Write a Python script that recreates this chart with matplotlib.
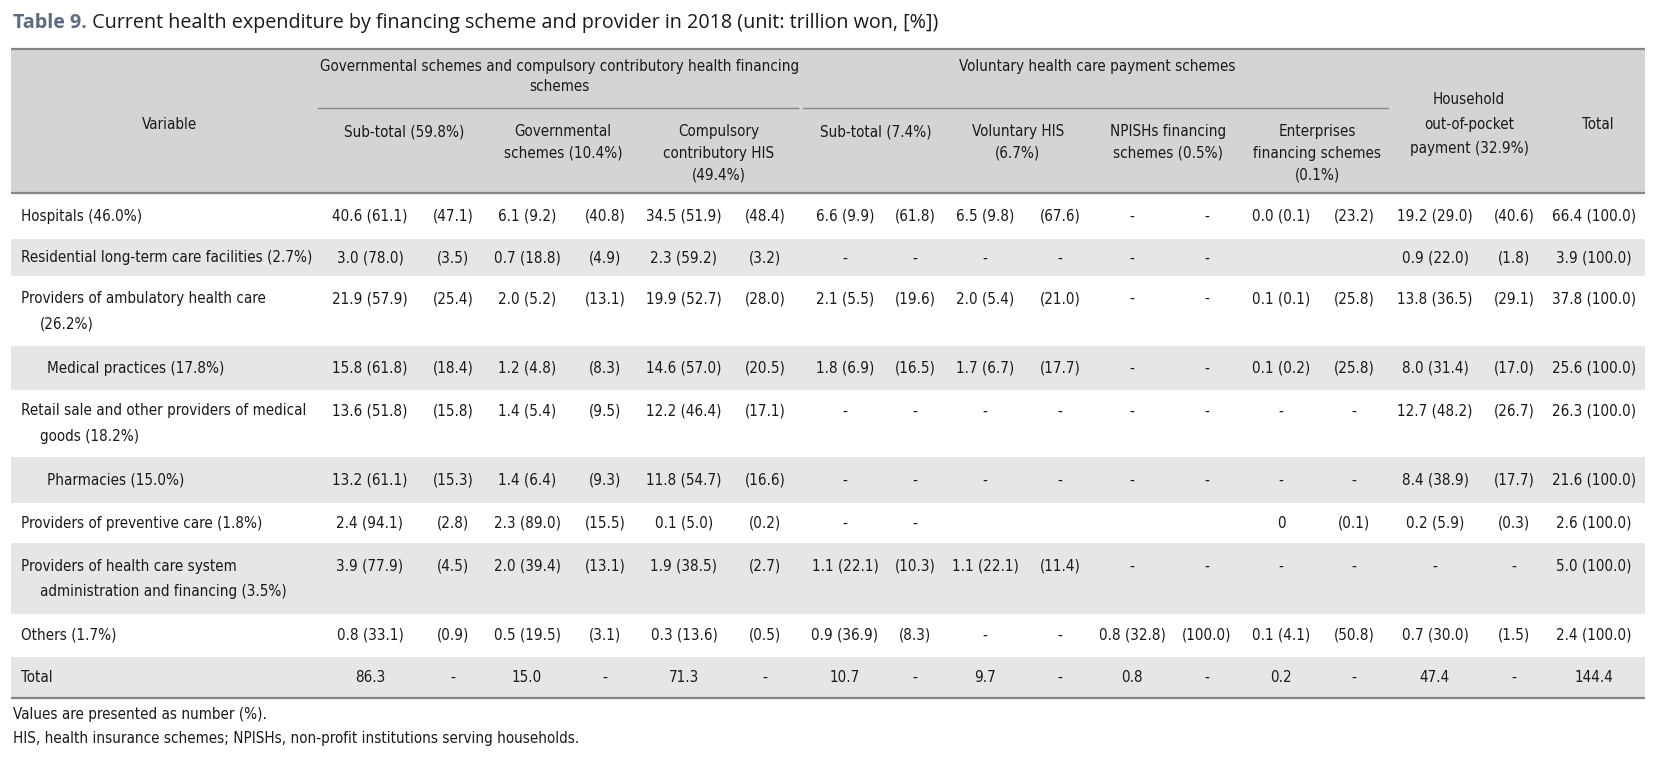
import matplotlib
matplotlib.use("Agg")
import matplotlib.pyplot as plt
from matplotlib import font_manager as fm
from matplotlib.patches import Rectangle

# ---------------- data ----------------
title_bold = "Table 9."
title_rest = " Current health expenditure by financing scheme and provider in 2018 (unit: trillion won, [%])"

group_headers = ["Governmental schemes and compulsory contributory health financing\nschemes",
                 "Voluntary health care payment schemes"]
sub_headers = ["Sub-total (59.8%)", "Governmental\nschemes (10.4%)", "Compulsory\ncontributory HIS\n(49.4%)",
               "Sub-total (7.4%)", "Voluntary HIS\n(6.7%)", "NPISHs financing\nschemes (0.5%)",
               "Enterprises\nfinancing schemes\n(0.1%)"]
household_header = "Household\nout-of-pocket\npayment (32.9%)"
total_header = "Total"
variable_header = "Variable"

row_labels = ["Hospitals (46.0%)",
              "Residential long-term care facilities (2.7%)",
              "Providers of ambulatory health care\n(26.2%)",
              "Medical practices (17.8%)",
              "Retail sale and other providers of medical\ngoods (18.2%)",
              "Pharmacies (15.0%)",
              "Providers of preventive care (1.8%)",
              "Providers of health care system\nadministration and financing (3.5%)",
              "Others (1.7%)",
              "Total"]
row_indent = [False, False, False, True, False, True, False, False, False, False]

hospitals = ["40.6 (61.1)", "(47.1)", "6.1 (9.2)", "(40.8)", "34.5 (51.9)", "(48.4)", "6.6 (9.9)", "(61.8)",
             "6.5 (9.8)", "(67.6)", "-", "-", "0.0 (0.1)", "(23.2)", "19.2 (29.0)", "(40.6)", "66.4 (100.0)"]
residential = ["3.0 (78.0)", "(3.5)", "0.7 (18.8)", "(4.9)", "2.3 (59.2)", "(3.2)", "-", "-",
               "-", "-", "-", "-", "", "", "0.9 (22.0)", "(1.8)", "3.9 (100.0)"]
ambulatory = ["21.9 (57.9)", "(25.4)", "2.0 (5.2)", "(13.1)", "19.9 (52.7)", "(28.0)", "2.1 (5.5)", "(19.6)",
              "2.0 (5.4)", "(21.0)", "-", "-", "0.1 (0.1)", "(25.8)", "13.8 (36.5)", "(29.1)", "37.8 (100.0)"]
medical = ["15.8 (61.8)", "(18.4)", "1.2 (4.8)", "(8.3)", "14.6 (57.0)", "(20.5)", "1.8 (6.9)", "(16.5)",
           "1.7 (6.7)", "(17.7)", "-", "-", "0.1 (0.2)", "(25.8)", "8.0 (31.4)", "(17.0)", "25.6 (100.0)"]
retail = ["13.6 (51.8)", "(15.8)", "1.4 (5.4)", "(9.5)", "12.2 (46.4)", "(17.1)", "-", "-",
          "-", "-", "-", "-", "-", "-", "12.7 (48.2)", "(26.7)", "26.3 (100.0)"]
pharmacies = ["13.2 (61.1)", "(15.3)", "1.4 (6.4)", "(9.3)", "11.8 (54.7)", "(16.6)", "-", "-",
              "-", "-", "-", "-", "-", "-", "8.4 (38.9)", "(17.7)", "21.6 (100.0)"]
preventive = ["2.4 (94.1)", "(2.8)", "2.3 (89.0)", "(15.5)", "0.1 (5.0)", "(0.2)", "-", "-",
              "", "", "", "", "0", "(0.1)", "0.2 (5.9)", "(0.3)", "2.6 (100.0)"]
administration = ["3.9 (77.9)", "(4.5)", "2.0 (39.4)", "(13.1)", "1.9 (38.5)", "(2.7)", "1.1 (22.1)", "(10.3)",
                  "1.1 (22.1)", "(11.4)", "-", "-", "-", "-", "-", "-", "5.0 (100.0)"]
others = ["0.8 (33.1)", "(0.9)", "0.5 (19.5)", "(3.1)", "0.3 (13.6)", "(0.5)", "0.9 (36.9)", "(8.3)",
          "-", "-", "0.8 (32.8)", "(100.0)", "0.1 (4.1)", "(50.8)", "0.7 (30.0)", "(1.5)", "2.4 (100.0)"]
total_row = ["86.3", "-", "15.0", "-", "71.3", "-", "10.7", "-", "9.7", "-", "0.8", "-", "0.2", "-",
             "47.4", "-", "144.4"]
table_rows = [hospitals, residential, ambulatory, medical, retail, pharmacies, preventive,
              administration, others, total_row]

footnotes = ["Values are presented as number (%).",
             "HIS, health insurance schemes; NPISHs, non-profit institutions serving households."]

# ---------------- fonts ----------------
def find_condensed():
    prefs = ["liberationsansnarrow", "dejavusanscondensed", "robotocondensed", "notosanscondensed",
             "opensanscondensed"]
    cands = []
    for f in fm.fontManager.ttflist:
        base = f.fname.rsplit("/", 1)[-1].replace(" ", "").replace("_", "").replace("-", "").lower()
        is_cond = ("narrow" in base or "condensed" in base) and "semi" not in base and "extra" not in base
        if not is_cond or f.style != "normal":
            continue
        w = f.weight if isinstance(f.weight, int) else 400
        if w < 350 or w > 450:
            continue
        rank = len(prefs)
        for i, p in enumerate(prefs):
            if p in base:
                rank = i
                break
        cands.append((rank, f.fname))
    if cands:
        cands.sort()
        return cands[0][1]
    return None

def title_family():
    for fam in ["Noto Sans", "Open Sans", "Roboto", "Lato", "Liberation Sans"]:
        ws = set()
        for f in fm.fontManager.ttflist:
            if f.name == fam and f.style == "normal" and f.stretch == "normal":
                w = f.weight if isinstance(f.weight, int) else 400
                ws.add(w)
        if any(w >= 650 for w in ws) and any(350 <= w <= 450 for w in ws):
            return fam
    return "DejaVu Sans"

reg_path = find_condensed()
FP = fm.FontProperties(fname=reg_path) if reg_path else fm.FontProperties(family=["Liberation Sans"])
TFAM = title_family()
FP_T = fm.FontProperties(family=TFAM)
FP_TB = fm.FontProperties(family=TFAM, weight="bold")
TXT = "#1a1a1a"

# ---------------- figure ----------------
W, H = 1654, 759
fig = plt.figure(figsize=(W / 100, H / 100), dpi=100)
ax = fig.add_axes([0, 0, 1, 1])
ax.set_xlim(0, W)
ax.set_ylim(H, 0)
ax.axis("off")
renderer = fig.canvas.get_renderer()

def fit_size(s, fp, target_px, ref=10.0):
    t = ax.text(0, 0, s, fontproperties=fp, fontsize=ref)
    w = t.get_window_extent(renderer).width
    t.remove()
    return ref * target_px / w

FS = fit_size(row_labels[1], FP, 292.0)
FST = fit_size(title_bold + title_rest, FP_T, 925.0)

def T(x, y, s, size=None, fp=None, **kw):
    kw.setdefault("color", TXT)
    kw.setdefault("va", "center")
    return ax.text(x, y, s, fontproperties=fp or FP, fontsize=size or FS, **kw)

# ---------------- layout ----------------
X0, X1 = 10.5, 1645
HEAD_TOP, HEAD_BOT = 49, 193
row_bounds = [193, 239.4, 276.4, 346, 390.3, 456.7, 503.1, 543.2, 613.9, 657.1, 698.3]
col_x = [370, 453, 527, 605, 684, 765, 845, 915, 985, 1060, 1132, 1207, 1281, 1354, 1435, 1514, 1594]
sub_x = [404, 563, 719, 876, 1018, 1168, 1317]
HLS = 21.7   # header line spacing
BLS = 25.0   # body line spacing
HEAD_BG = "#d4d4d4"
ROW_BG = "#e6e6e6"
LINE_C = "#858585"

# title
t1 = T(13, 23, title_bold, size=FST, fp=FP_TB, color="#5b6b80", ha="left")
ax.annotate(title_rest, xy=(1, 0.5), xycoords=t1, fontproperties=FP_T, fontsize=FST, color=TXT,
            ha="left", va="center")

# header background
ax.add_patch(Rectangle((X0, HEAD_TOP), X1 - X0, HEAD_BOT - HEAD_TOP, facecolor=HEAD_BG,
                       edgecolor="none", zorder=0))
# row shading
for i in range(len(table_rows)):
    if i % 2 == 1:
        ax.add_patch(Rectangle((X0, row_bounds[i]), X1 - X0, row_bounds[i + 1] - row_bounds[i],
                               facecolor=ROW_BG, edgecolor="none", zorder=0))

# rules
for y in (HEAD_TOP, HEAD_BOT, row_bounds[-1]):
    ax.plot([X0, X1], [y, y], color=LINE_C, lw=1.6, solid_capstyle="butt", zorder=2)
ax.plot([318, 798], [108.3, 108.3], color=LINE_C, lw=1.0, zorder=2)
ax.plot([803, 1388], [108.3, 108.3], color=LINE_C, lw=1.0, zorder=2)

# header texts
g0 = group_headers[0].split("\n")
T(560, 67.0, g0[0], ha="center")
T(560, 86.5, g0[1], ha="center")
T(1097, 67.0, group_headers[1], ha="center")
T(170, 124.6, variable_header, ha="center")
for x, s in zip(sub_x, sub_headers):
    for k, line in enumerate(s.split("\n")):
        T(x, 131.7 + k * HLS, line, ha="center")
for k, line in enumerate(household_header.split("\n")):
    T(1469, 99.0 + k * 25.0, line, ha="center")
T(1598, 124.6, total_header, ha="center")

# body
for i, (lab, vals) in enumerate(zip(row_labels, table_rows)):
    top, bot = row_bounds[i], row_bounds[i + 1]
    lines = lab.split("\n")
    first_y = (top + bot) / 2 - (len(lines) - 1) * BLS / 2
    for k, line in enumerate(lines):
        if row_indent[i]:
            x = 46.6
        else:
            x = 20.7 if k == 0 else 40.0
        T(x, first_y + k * BLS, line, ha="left")
    for x, v in zip(col_x, vals):
        if v:
            T(x, first_y, v, ha="center")

# footnotes
T(13, 715, footnotes[0], ha="left")
T(13, 738, footnotes[1], ha="left")

fig.savefig("out.png", dpi=100, facecolor="white")
